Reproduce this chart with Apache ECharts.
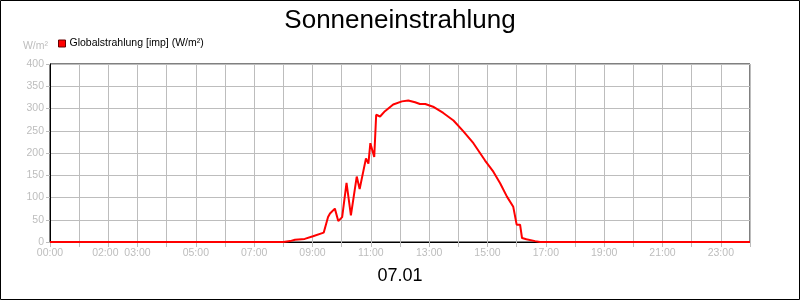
<!DOCTYPE html>
<html><head><meta charset="utf-8">
<script src="https://cdn.jsdelivr.net/npm/echarts@6/dist/echarts.min.js"></script>
<style>html,body{margin:0;padding:0;background:#fff}#c{width:800px;height:300px}</style>
</head><body><div id="c"></div>
<script>
const chartTitle = 'Sonneneinstrahlung';
const dateLabel = '07.01';
const seriesName = 'Globalstrahlung [imp] (W/m²)';
const unitLabel = 'W/m²';
const times = ['00:00','08:00','08:14','08:24','08:44','09:01','09:23','09:32','09:36','09:46','09:53','10:01','10:10','10:19','10:31','10:37','10:50','10:55','10:59','11:07','11:11','11:19','11:29','11:46','12:04','12:17','12:31','12:41','12:52','13:08','13:29','13:50','14:10','14:31','14:55','15:12','15:26','15:40','15:53','16:00','16:07','16:11','16:20','16:38','16:48','24:00'];
const values = [0,0,2,5,7,13,21,56,64,75,47,56,133,60,147,119,188,176,222,191,286,282,294,309,316,318,314,310,310,304,290,273,249,222,183,158,132,102,79,39,39,9,6,2,0,0];
const xTickLabels = ['00:00','02:00','03:00','05:00','07:00','09:00','11:00','13:00','15:00','17:00','19:00','21:00','23:00'];
const yTicks = [0,50,100,150,200,250,300,350,400];

function toHours(t){const p=t.split(':');return +p[0]+(+p[1])/60;}
function fmtHour(v){const h=Math.round(v);return (h<10?'0':'')+h+':00';}
const data = times.map((t,i)=>[toHours(t), values[i]]);

const grey = '#bdbdbd';
const font = 'Liberation Sans, Arial, sans-serif';
const chart = echarts.init(document.getElementById('c'), null, {renderer:'canvas'});
chart.setOption({
  animation:false,
  backgroundColor:'#fff',
  title:[
    {text:chartTitle,left:'center',top:3,textStyle:{fontFamily:font,fontSize:26,fontWeight:'normal',color:'#000'}},
    {text:dateLabel,left:'center',top:262,textStyle:{fontFamily:font,fontSize:18,fontWeight:'normal',color:'#000'}}
  ],
  legend:{left:53,top:36,itemWidth:7,itemHeight:7,itemGap:5,icon:'rect',padding:[2,5,2,5],
    textStyle:{fontFamily:font,fontSize:10.5,color:'#000',padding:[0,0,0,-1]},
    data:[{name:seriesName,itemStyle:{color:'#ff0000',borderColor:'#600',borderWidth:1}}]},
  grid:{left:50,top:64,width:700,height:178,show:true,borderColor:'#000',borderWidth:1},
  xAxis:{type:'value',min:0,max:24,interval:1,
    axisLine:{show:true,lineStyle:{color:'#000',width:1}},
    axisTick:{show:true,length:5,lineStyle:{color:grey}},
    splitLine:{show:true,lineStyle:{color:grey,width:1}},
    axisLabel:{margin:6,color:grey,fontFamily:font,fontSize:10.5,showMinLabel:true,showMaxLabel:true,
      rich:{a:{color:grey,fontFamily:font,fontSize:10.5,padding:[0,6,0,0]}},
      formatter:v=>{const s=fmtHour(v);if(xTickLabels.indexOf(s)<0||v>=24)return '';return s==='02:00'?'{a|'+s+'}':s;}}},
  yAxis:{type:'value',min:yTicks[0],max:yTicks[yTicks.length-1],interval:50,
    name:unitLabel,nameLocation:'end',nameGap:12,
    nameTextStyle:{color:grey,fontFamily:font,fontSize:10.5,align:'right',padding:[0,2,0,0]},
    axisLine:{show:true,lineStyle:{color:'#000',width:1}},
    axisTick:{show:true,length:4,lineStyle:{color:grey}},
    splitLine:{show:true,lineStyle:{color:grey,width:1}},
    axisLabel:{margin:6,color:grey,fontFamily:font,fontSize:10.5}},
  series:[{name:seriesName,type:'line',data:data,showSymbol:false,symbol:'none',
    lineStyle:{color:'#ff0000',width:2},itemStyle:{color:'#ff0000'}}],
  graphic:[{type:'rect',shape:{x:0.5,y:0.5,width:799,height:299},style:{fill:null,stroke:'#000',lineWidth:1},silent:true}]
});
</script></body></html>
